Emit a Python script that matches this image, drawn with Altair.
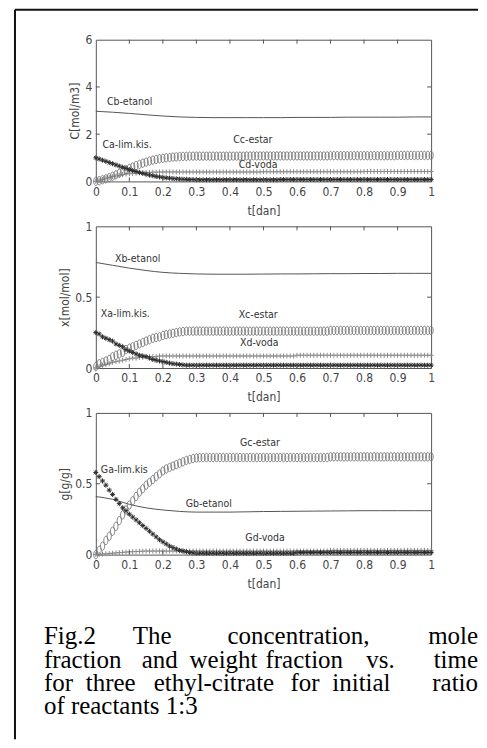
import altair as alt
import pandas as pd

# ---------------- data ----------------
T_MARK = [round(i * 0.01, 2) for i in range(101)]   # marker time grid 0..1 [dan]
T_LINE = [round(i * 0.05, 2) for i in range(21)]    # line time grid 0..1 [dan]
X_TICKS = [0, 0.1, 0.2, 0.3, 0.4, 0.5, 0.6, 0.7, 0.8, 0.9, 1]

# Panel 1: concentration C [mol/m3]
CA = [1.00, 0.95, 0.90, 0.85, 0.80, 0.75, 0.70, 0.65, 0.60, 0.55,
      0.50, 0.46, 0.42, 0.38, 0.34, 0.30, 0.27, 0.24, 0.21, 0.19,
      0.17, 0.15, 0.14, 0.12, 0.11, 0.10, 0.09, 0.09, 0.08, 0.08,
      0.07, 0.07, 0.07, 0.07, 0.07, 0.07, 0.07, 0.07, 0.07, 0.07,
      0.07, 0.07, 0.07, 0.07, 0.07, 0.07, 0.07, 0.07, 0.07, 0.07,
      0.07, 0.07, 0.07, 0.07, 0.07, 0.08, 0.08, 0.08, 0.08, 0.08,
      0.08, 0.08, 0.08, 0.08, 0.08, 0.08, 0.08, 0.08, 0.08, 0.08,
      0.08, 0.08, 0.08, 0.08, 0.08, 0.08, 0.08, 0.08, 0.08, 0.08,
      0.08, 0.08, 0.08, 0.08, 0.08, 0.08, 0.08, 0.08, 0.08, 0.08,
      0.08, 0.08, 0.08, 0.08, 0.08, 0.08, 0.08, 0.08, 0.08, 0.08,
      0.08]
CC = [0.00, 0.03, 0.07, 0.11, 0.16, 0.22, 0.28, 0.35, 0.42, 0.49,
      0.55, 0.61, 0.67, 0.72, 0.77, 0.82, 0.86, 0.90, 0.93, 0.96,
      0.98, 1.00, 1.01, 1.03, 1.04, 1.05, 1.06, 1.06, 1.07, 1.07,
      1.07, 1.07, 1.07, 1.07, 1.07, 1.07, 1.07, 1.07, 1.07, 1.07,
      1.07, 1.07, 1.07, 1.07, 1.07, 1.08, 1.08, 1.08, 1.08, 1.08,
      1.08, 1.08, 1.08, 1.08, 1.08, 1.08, 1.08, 1.08, 1.08, 1.08,
      1.08, 1.08, 1.08, 1.08, 1.08, 1.08, 1.08, 1.08, 1.08, 1.08,
      1.09, 1.09, 1.09, 1.09, 1.09, 1.09, 1.09, 1.09, 1.09, 1.09,
      1.09, 1.09, 1.09, 1.09, 1.09, 1.09, 1.09, 1.09, 1.09, 1.09,
      1.10, 1.10, 1.10, 1.10, 1.10, 1.10, 1.10, 1.10, 1.10, 1.10,
      1.10]
CD = [0.00, 0.05, 0.09, 0.13, 0.17, 0.20, 0.23, 0.26, 0.29, 0.31,
      0.33, 0.34, 0.35, 0.36, 0.37, 0.38, 0.38, 0.39, 0.39, 0.40,
      0.40, 0.40, 0.40, 0.40, 0.40, 0.40, 0.40, 0.40, 0.40, 0.40,
      0.40, 0.40, 0.40, 0.40, 0.40, 0.40, 0.40, 0.40, 0.40, 0.40,
      0.40, 0.40, 0.40, 0.40, 0.40, 0.40, 0.40, 0.40, 0.40, 0.40,
      0.41, 0.41, 0.41, 0.41, 0.41, 0.41, 0.41, 0.41, 0.41, 0.41,
      0.41, 0.41, 0.41, 0.41, 0.41, 0.41, 0.41, 0.41, 0.41, 0.41,
      0.41, 0.41, 0.41, 0.41, 0.41, 0.41, 0.41, 0.41, 0.41, 0.41,
      0.42, 0.42, 0.42, 0.42, 0.42, 0.42, 0.42, 0.42, 0.42, 0.42,
      0.42, 0.42, 0.42, 0.42, 0.42, 0.42, 0.42, 0.42, 0.42, 0.42,
      0.42]
CB = [2.97, 2.93, 2.88, 2.82, 2.77, 2.73, 2.71, 2.70, 2.70, 2.70, 2.70,
      2.70, 2.71, 2.71, 2.71, 2.72, 2.72, 2.72, 2.72, 2.73, 2.73]

# Panel 2: mole fraction x [mol/mol]
XA = [0.25, 0.24, 0.22, 0.21, 0.20, 0.19, 0.17, 0.16, 0.15, 0.13,
      0.12, 0.11, 0.10, 0.09, 0.085, 0.08, 0.07, 0.06, 0.055, 0.05,
      0.045, 0.04, 0.035, 0.03, 0.028, 0.025, 0.022, 0.02, 0.02, 0.02,
      0.02, 0.02, 0.02, 0.02, 0.02, 0.02, 0.02, 0.02, 0.02, 0.02,
      0.02, 0.02, 0.02, 0.02, 0.02, 0.02, 0.02, 0.02, 0.02, 0.02,
      0.02, 0.02, 0.02, 0.02, 0.02, 0.02, 0.02, 0.02, 0.02, 0.02,
      0.02, 0.02, 0.02, 0.02, 0.02, 0.02, 0.02, 0.02, 0.02, 0.02,
      0.02, 0.02, 0.02, 0.02, 0.02, 0.02, 0.02, 0.02, 0.02, 0.02,
      0.02, 0.02, 0.02, 0.02, 0.02, 0.02, 0.02, 0.02, 0.02, 0.02,
      0.02, 0.02, 0.02, 0.02, 0.02, 0.02, 0.02, 0.02, 0.02, 0.02,
      0.02]
XC = [0.01, 0.03, 0.04, 0.05, 0.06, 0.08, 0.09, 0.10, 0.11, 0.13,
      0.14, 0.15, 0.16, 0.17, 0.18, 0.19, 0.20, 0.21, 0.215, 0.22,
      0.23, 0.235, 0.24, 0.245, 0.25, 0.255, 0.257, 0.26, 0.26, 0.26,
      0.26, 0.26, 0.26, 0.26, 0.26, 0.26, 0.26, 0.26, 0.26, 0.26,
      0.26, 0.26, 0.26, 0.26, 0.26, 0.26, 0.26, 0.26, 0.26, 0.26,
      0.26, 0.26, 0.26, 0.26, 0.26, 0.26, 0.26, 0.26, 0.26, 0.26,
      0.26, 0.26, 0.26, 0.26, 0.26, 0.26, 0.26, 0.26, 0.26, 0.26,
      0.265, 0.265, 0.265, 0.265, 0.265, 0.265, 0.265, 0.265, 0.265, 0.265,
      0.265, 0.265, 0.265, 0.265, 0.265, 0.265, 0.265, 0.265, 0.265, 0.265,
      0.265, 0.265, 0.265, 0.265, 0.265, 0.265, 0.265, 0.265, 0.265, 0.265,
      0.265]
XD = [0.00, 0.01, 0.02, 0.025, 0.03, 0.04, 0.045, 0.05, 0.055, 0.06,
      0.065, 0.07, 0.07, 0.075, 0.075, 0.08, 0.08, 0.08, 0.08, 0.085,
      0.085, 0.085, 0.085, 0.085, 0.085, 0.085, 0.085, 0.085, 0.085, 0.085,
      0.085, 0.085, 0.085, 0.085, 0.085, 0.085, 0.085, 0.085, 0.085, 0.085,
      0.085, 0.085, 0.085, 0.085, 0.085, 0.085, 0.085, 0.085, 0.085, 0.085,
      0.085, 0.085, 0.085, 0.085, 0.085, 0.085, 0.085, 0.085, 0.085, 0.085,
      0.09, 0.09, 0.09, 0.09, 0.09, 0.09, 0.09, 0.09, 0.09, 0.09,
      0.09, 0.09, 0.09, 0.09, 0.09, 0.09, 0.09, 0.09, 0.09, 0.09,
      0.09, 0.09, 0.09, 0.09, 0.09, 0.09, 0.09, 0.09, 0.09, 0.09,
      0.09, 0.09, 0.09, 0.09, 0.09, 0.09, 0.09, 0.09, 0.09, 0.09,
      0.09]
XB = [0.745, 0.725, 0.705, 0.688, 0.675, 0.668, 0.664, 0.662, 0.662, 0.662, 0.663,
      0.664, 0.664, 0.665, 0.666, 0.666, 0.667, 0.667, 0.668, 0.668, 0.668]

# Panel 3: weight fraction g [g/g]
GA = [0.58, 0.55, 0.52, 0.49, 0.455, 0.425, 0.39, 0.36, 0.33, 0.31,
      0.285, 0.265, 0.245, 0.225, 0.205, 0.185, 0.165, 0.145, 0.125, 0.105,
      0.09, 0.075, 0.06, 0.05, 0.04, 0.03, 0.025, 0.02, 0.015, 0.012,
      0.01, 0.01, 0.01, 0.01, 0.01, 0.01, 0.01, 0.01, 0.01, 0.01,
      0.01, 0.01, 0.01, 0.01, 0.01, 0.01, 0.01, 0.01, 0.01, 0.01,
      0.01, 0.01, 0.01, 0.01, 0.01, 0.01, 0.01, 0.01, 0.01, 0.01,
      0.015, 0.015, 0.015, 0.015, 0.015, 0.015, 0.015, 0.015, 0.015, 0.015,
      0.015, 0.015, 0.015, 0.015, 0.015, 0.015, 0.015, 0.015, 0.015, 0.015,
      0.015, 0.015, 0.015, 0.015, 0.015, 0.015, 0.015, 0.015, 0.015, 0.015,
      0.015, 0.015, 0.015, 0.015, 0.015, 0.015, 0.015, 0.015, 0.015, 0.015,
      0.015]
GC = [0.00, 0.03, 0.06, 0.10, 0.13, 0.165, 0.20, 0.24, 0.28, 0.315,
      0.35, 0.38, 0.41, 0.44, 0.465, 0.49, 0.51, 0.53, 0.55, 0.57,
      0.59, 0.605, 0.615, 0.625, 0.635, 0.645, 0.655, 0.665, 0.672, 0.678,
      0.682, 0.684, 0.685, 0.685, 0.685, 0.685, 0.685, 0.685, 0.685, 0.685,
      0.685, 0.685, 0.685, 0.685, 0.685, 0.685, 0.685, 0.685, 0.685, 0.685,
      0.685, 0.685, 0.685, 0.685, 0.685, 0.685, 0.685, 0.685, 0.685, 0.685,
      0.685, 0.685, 0.685, 0.685, 0.685, 0.685, 0.685, 0.685, 0.685, 0.685,
      0.69, 0.69, 0.69, 0.69, 0.69, 0.69, 0.69, 0.69, 0.69, 0.69,
      0.69, 0.69, 0.69, 0.69, 0.69, 0.69, 0.69, 0.69, 0.69, 0.69,
      0.69, 0.69, 0.69, 0.69, 0.69, 0.69, 0.69, 0.69, 0.69, 0.69,
      0.69]
GD = [0.00, 0.002, 0.004, 0.006, 0.008, 0.01, 0.012, 0.014, 0.016, 0.018,
      0.02, 0.021, 0.022, 0.023, 0.024, 0.025, 0.025, 0.025, 0.025, 0.025,
      0.025, 0.025, 0.025, 0.025, 0.025, 0.025, 0.025, 0.025, 0.025, 0.025,
      0.025, 0.025, 0.025, 0.025, 0.025, 0.025, 0.025, 0.025, 0.025, 0.025,
      0.025, 0.025, 0.025, 0.025, 0.025, 0.025, 0.025, 0.025, 0.025, 0.025,
      0.025, 0.025, 0.025, 0.025, 0.025, 0.025, 0.025, 0.025, 0.025, 0.025,
      0.025, 0.025, 0.025, 0.025, 0.025, 0.025, 0.025, 0.025, 0.025, 0.025,
      0.03, 0.03, 0.03, 0.03, 0.03, 0.03, 0.03, 0.03, 0.03, 0.03,
      0.03, 0.03, 0.03, 0.03, 0.03, 0.03, 0.03, 0.03, 0.03, 0.03,
      0.03, 0.03, 0.03, 0.03, 0.03, 0.03, 0.03, 0.03, 0.03, 0.03,
      0.03]
GB = [0.41, 0.39, 0.355, 0.33, 0.315, 0.305, 0.30, 0.30, 0.30, 0.302, 0.304,
      0.305, 0.306, 0.307, 0.308, 0.309, 0.31, 0.31, 0.31, 0.31, 0.31]

# in-plot annotations (text, t, value)
P1_LABELS = [("Cb-etanol", 0.033, 3.37), ("Ca-lim.kis.", 0.02, 1.55),
             ("Cc-estar", 0.41, 1.74), ("Cd-voda", 0.426, 0.68)]
P2_LABELS = [("Xb-etanol", 0.057, 0.77), ("Xa-lim.kis.", 0.015, 0.38),
             ("Xc-estar", 0.426, 0.377), ("Xd-voda", 0.43, 0.18)]
P3_LABELS = [("Gc-estar", 0.43, 0.785), ("Ga-lim.kis", 0.015, 0.60),
             ("Gb-etanol", 0.268, 0.354), ("Gd-voda", 0.446, 0.115)]

CAPTION_LEFT = ["Fig.2", "The", "concentration,",
                "fraction", "and", "weight", "fraction", "vs.",
                "for", "three", "ethyl-citrate", "for", "initial",
                "of reactants 1:3"]
CAPTION_RIGHT = ["mole", "time", "ratio"]

# ---------------- layout / style ----------------
W, H = 336, 142
SANS = "Liberation Sans Narrow, DejaVu Sans Condensed, Liberation Sans, sans-serif"
SERIF = "Liberation Serif, Times New Roman, serif"
INK = "#444444"

ELLIPSE = "M0,-1A0.5,1,0,1,1,0,1A0.5,1,0,1,1,0,-1Z"
ASTER = "M-1,0L1,0M0,-1L0,1M-0.7,-0.7L0.7,0.7M-0.7,0.7L0.7,-0.7"
PLUS = "M-1,0L1,0M0,-1L0,1"

# caption word positions (px, relative to caption panel origin)
CAP_LEFT_X = [-52, 37, 132, -52, 46, 94, 170, 271, -52, -10, 58, 195, 237, -52]
CAP_LEFT_Y = [45, 45, 45, 68.3, 68.3, 68.3, 68.3, 68.3, 91.7, 91.7, 91.7, 91.7, 91.7, 115]
CAP_RIGHT_X = [383, 383, 383]
CAP_RIGHT_Y = [45, 68.3, 91.7]

AX_COMMON = dict(grid=False, domain=False, ticks=False, tickSize=0,
                 labelFont=SANS, titleFont=SANS, labelFontSize=12, titleFontSize=12,
                 labelColor=INK, titleColor=INK, titleFontWeight="normal",
                 labelFlush=False, labelOverlap=False)


def panel(line_vals, star_vals, circ_vals, plus_vals, ymax, yticks, ytitle, labels):
    xe = alt.X("t:Q", scale=alt.Scale(domain=[0, 1], nice=False, zero=False),
               axis=alt.Axis(values=X_TICKS, format="~g", title="t[dan]",
                             labelPadding=5, titlePadding=8, **AX_COMMON))
    ye = alt.Y("v:Q", scale=alt.Scale(domain=[0, ymax], nice=False),
               axis=alt.Axis(values=yticks, format="~g", title=ytitle,
                             labelPadding=4, titlePadding=3, **AX_COMMON))
    layers = []
    layers.append(alt.Chart(pd.DataFrame({"t": T_LINE, "v": line_vals}))
                  .mark_line(color="#555555", strokeWidth=1, interpolate="monotone")
                  .encode(x=xe, y=ye))
    layers.append(alt.Chart(pd.DataFrame({"t": T_MARK, "v": plus_vals}))
                  .mark_point(shape=PLUS, size=25, filled=False, stroke="#8a8a8a",
                              strokeWidth=1, opacity=1)
                  .encode(x=xe, y=ye))
    layers.append(alt.Chart(pd.DataFrame({"t": T_MARK, "v": circ_vals}))
                  .mark_point(shape=ELLIPSE, size=72, filled=False, stroke="#777777",
                              strokeWidth=0.9, opacity=1)
                  .encode(x=xe, y=ye))
    layers.append(alt.Chart(pd.DataFrame({"t": T_MARK, "v": star_vals}))
                  .mark_point(shape=ASTER, size=25, filled=False, stroke="#2a2a2a",
                              strokeWidth=1, opacity=1)
                  .encode(x=xe, y=ye))
    # inside tick marks (MATLAB style)
    xt = pd.DataFrame({"t": X_TICKS[1:-1]})
    yt = pd.DataFrame({"v": yticks[1:-1]})
    tick = dict(color="#555555", strokeWidth=1)
    layers.append(alt.Chart(xt).mark_rule(**tick).encode(x=xe, y=alt.value(H), y2=alt.value(H - 4)))
    layers.append(alt.Chart(xt).mark_rule(**tick).encode(x=xe, y=alt.value(0), y2=alt.value(4)))
    layers.append(alt.Chart(yt).mark_rule(**tick).encode(y=ye, x=alt.value(0), x2=alt.value(4)))
    layers.append(alt.Chart(yt).mark_rule(**tick).encode(y=ye, x=alt.value(W), x2=alt.value(W - 4)))
    lab = pd.DataFrame({"text": [l[0] for l in labels],
                        "t": [l[1] for l in labels],
                        "v": [l[2] for l in labels]})
    layers.append(alt.Chart(lab).mark_text(align="left", baseline="middle", font=SANS,
                                           fontSize=10.5, color="#333333")
                  .encode(x=xe, y=ye, text="text:N"))
    return alt.layer(*layers).properties(
        width=W, height=H,
        view=alt.ViewBackground(stroke="#555555", strokeWidth=1))


p1 = panel(CB, CA, CC, CD, 6, [0, 2, 4, 6], "C[mol/m3]", P1_LABELS)
p2 = panel(XB, XA, XC, XD, 1, [0, 0.5, 1], "x[mol/mol]", P2_LABELS)
p3 = panel(GB, GA, GC, GD, 1, [0, 0.5, 1], "g[g/g]", P3_LABELS)

cap_l = pd.DataFrame({"w": CAPTION_LEFT, "px": CAP_LEFT_X, "py": CAP_LEFT_Y})
cap_r = pd.DataFrame({"w": CAPTION_RIGHT, "px": CAP_RIGHT_X, "py": CAP_RIGHT_Y})
one = pd.DataFrame({"k": [0]})

cap = alt.layer(
    alt.Chart(cap_l).mark_text(align="left", baseline="alphabetic", font=SERIF,
                               fontSize=25, color="black")
    .encode(x=alt.X("px:Q", scale=None), y=alt.Y("py:Q", scale=None), text="w:N"),
    alt.Chart(cap_r).mark_text(align="right", baseline="alphabetic", font=SERIF,
                               fontSize=25, color="black")
    .encode(x=alt.X("px:Q", scale=None), y=alt.Y("py:Q", scale=None), text="w:N"),
    # figure frame (left and top edges)
    alt.Chart(one).mark_rule(color="#111111", strokeWidth=2)
    .encode(x=alt.value(-81), y=alt.value(-591), y2=alt.value(140)),
    alt.Chart(one).mark_rule(color="#111111", strokeWidth=2)
    .encode(x=alt.value(-81), x2=alt.value(383), y=alt.value(-591)),
).properties(width=W, height=140,
             view=alt.ViewBackground(stroke="transparent", strokeWidth=0))

chart = alt.vconcat(p1, p2, p3, cap, spacing=45, bounds="flush").properties(
    padding={"left": 6, "top": 0, "right": 0, "bottom": 0},
    background="white",
)

chart.save("out.html", embed_options={"renderer": "svg", "actions": False})
